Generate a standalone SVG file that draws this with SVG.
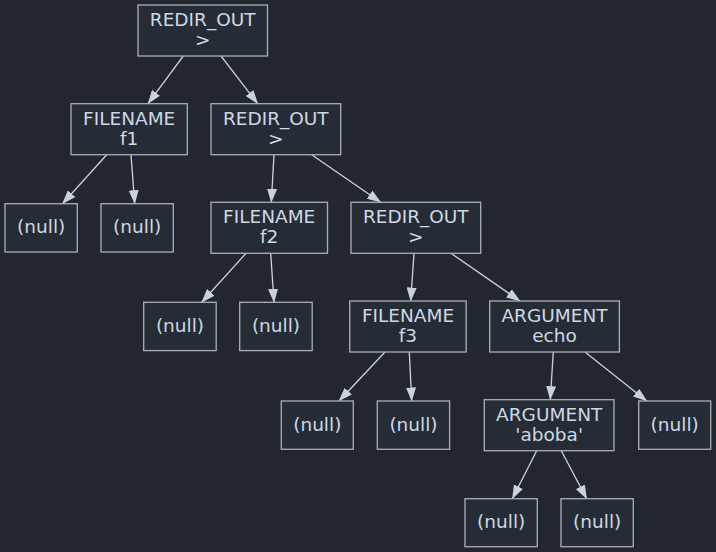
<svg xmlns="http://www.w3.org/2000/svg" width="716" height="552" viewBox="0 0 716 552">
<defs>
<marker id="ah" markerUnits="userSpaceOnUse" markerWidth="14" markerHeight="10" refX="13.5" refY="5" orient="auto">
<path d="M0,0 L14,5 L0,10 z" fill="#c8d1dc"/>
</marker>
<style>
.n rect{fill:#262c36;stroke:#a6adb6;stroke-width:1.33}
.n text{fill:#cdd9e5;font-family:"DejaVu Sans",sans-serif;font-size:18.5px;text-anchor:middle}
#edges line{stroke:#c8d1dc;stroke-width:1.33;marker-end:url(#ah)}
</style>
</defs>
<rect width="716" height="552" fill="#22272e"/>
<g id="edges">
<line x1="183.3" y1="56" x2="148" y2="103.7"/>
<line x1="221" y1="56" x2="257.7" y2="103.7"/>
<line x1="106.7" y1="154.7" x2="62.5" y2="203.7"/>
<line x1="131" y1="154.7" x2="134.7" y2="203.7"/>
<line x1="274" y1="154.7" x2="271.3" y2="202.3"/>
<line x1="311.7" y1="154.7" x2="380.7" y2="202.3"/>
<line x1="246" y1="253.3" x2="201.7" y2="302.3"/>
<line x1="270.7" y1="253.3" x2="274" y2="302.3"/>
<line x1="414" y1="253.3" x2="410.7" y2="301"/>
<line x1="451" y1="253.3" x2="520" y2="301"/>
<line x1="385" y1="352" x2="339" y2="401"/>
<line x1="409.3" y1="352" x2="411.7" y2="401"/>
<line x1="553.3" y1="352" x2="550.3" y2="399.7"/>
<line x1="585" y1="352" x2="646.7" y2="401"/>
<line x1="536.7" y1="450.7" x2="512.3" y2="498.7"/>
<line x1="561.3" y1="450.7" x2="586.7" y2="498.7"/>
</g>
<g id="root" class="n"><rect x="138" y="5" width="129.5" height="51"/><text x="202.7" y="26">REDIR_OUT</text><text x="202.7" y="46">&gt;</text></g>
<g id="f1" class="n"><rect x="71" y="103.7" width="116.3" height="51"/><text x="129.2" y="124.7">FILENAME</text><text x="129.2" y="144.7">f1</text></g>
<g id="redir2" class="n"><rect x="211" y="103.7" width="129.7" height="51"/><text x="275.8" y="124.7">REDIR_OUT</text><text x="275.8" y="144.7">&gt;</text></g>
<g id="null1" class="n"><rect x="5" y="203.7" width="72.3" height="48.3"/><text x="41.2" y="233.3">(null)</text></g>
<g id="null2" class="n"><rect x="101" y="203.7" width="72.3" height="48.3"/><text x="137.2" y="233.3">(null)</text></g>
<g id="f2" class="n"><rect x="211" y="202.3" width="116.5" height="51"/><text x="269.2" y="223.3">FILENAME</text><text x="269.2" y="243.3">f2</text></g>
<g id="redir3" class="n"><rect x="351" y="202.3" width="129.7" height="51"/><text x="415.8" y="223.3">REDIR_OUT</text><text x="415.8" y="243.3">&gt;</text></g>
<g id="null3" class="n"><rect x="143.7" y="302.3" width="72.5" height="48.3"/><text x="180" y="332">(null)</text></g>
<g id="null4" class="n"><rect x="239.7" y="302.3" width="72.5" height="48.3"/><text x="276" y="332">(null)</text></g>
<g id="f3" class="n"><rect x="349.7" y="301" width="116.5" height="51"/><text x="408" y="322">FILENAME</text><text x="408" y="342">f3</text></g>
<g id="echo" class="n"><rect x="489.7" y="301" width="129.7" height="51"/><text x="554.5" y="322">ARGUMENT</text><text x="554.5" y="342">echo</text></g>
<g id="null5" class="n"><rect x="281.3" y="401" width="72" height="48.3"/><text x="317.3" y="430.7">(null)</text></g>
<g id="null6" class="n"><rect x="377.3" y="401" width="72.3" height="48.3"/><text x="413.5" y="430.7">(null)</text></g>
<g id="aboba" class="n"><rect x="484.3" y="399.7" width="129.7" height="51"/><text x="549.2" y="420.7">ARGUMENT</text><text x="549.2" y="440.7">'aboba'</text></g>
<g id="null7" class="n"><rect x="638.7" y="401" width="72" height="48.3"/><text x="674.7" y="430.7">(null)</text></g>
<g id="null8" class="n"><rect x="465" y="498.7" width="72.3" height="48"/><text x="501.2" y="528.2">(null)</text></g>
<g id="null9" class="n"><rect x="561" y="498.7" width="72.3" height="48"/><text x="597.2" y="528.2">(null)</text></g>
</svg>
